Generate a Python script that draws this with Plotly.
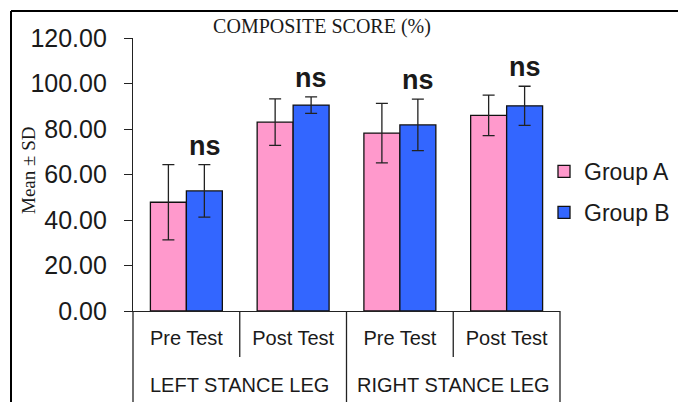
import numpy as np
import plotly.graph_objects as go

# ---- data -------------------------------------------------------------
stances = ["LEFT STANCE LEG", "RIGHT STANCE LEG"]
tests = ["Pre Test", "Post Test", "Pre Test", "Post Test"]
series_names = ["Group A", "Group B"]

group_a_mean = [47.8, 83.0, 78.2, 86.0]
group_a_sd = [16.5, 10.2, 13.1, 8.9]
group_b_mean = [52.8, 90.5, 81.8, 90.2]
group_b_sd = [11.5, 3.6, 11.3, 8.6]

sig_labels = ["ns", "ns", "ns", "ns"]
y_ticks = [0, 20, 40, 60, 80, 100, 120]

# ---- page geometry (pixels) --------------------------------------------
W, H = 678, 402
L, R, T, B = 133, 560, 38, 311


def fx(px):
    return (px - L) / (R - L)


def fy(py):
    return (B - py) / (B - T)


SANS = "Liberation Sans, Arial, sans-serif"
SERIF = "Liberation Serif, Times New Roman, serif"
INK = "#1a1a1a"

x_pos = np.arange(len(tests))

fig = go.Figure()
for name, mean, sd, color in [
    (series_names[0], group_a_mean, group_a_sd, "#ff99cc"),
    (series_names[1], group_b_mean, group_b_sd, "#3366ff"),
]:
    fig.add_trace(go.Bar(
        name=name, legendgroup=name, x=x_pos, y=mean,
        marker=dict(color=color, line=dict(color="#111111", width=1.3)),
        error_y=dict(type="data", array=sd, visible=True,
                     color="#222222", thickness=1.3, width=6),
    ))

# significance markers above the Group B whiskers
for i, lab in enumerate(sig_labels):
    fig.add_annotation(
        x=x_pos[i] + 0.17, y=group_b_mean[i] + group_b_sd[i],
        text=f"<b>{lab}</b>", showarrow=False, yanchor="bottom", yshift=2,
        font=dict(family=SANS, size=27, color=INK),
    )

# outer category labels
for j, st in enumerate(stances):
    fig.add_annotation(
        x=(x_pos[2 * j] + x_pos[2 * j + 1]) / 2, xref="x",
        y=fy(385), yref="paper", text=st, showarrow=False,
        yanchor="middle", font=dict(family=SANS, size=20, color=INK),
    )

# category separators below the axis
shapes = []
for k in range(len(tests) + 1):
    bottom = H + 5 if k % 2 == 0 else 357
    shapes.append(dict(type="line", xref="x domain", yref="paper",
                       x0=k / len(tests), x1=k / len(tests),
                       y0=0, y1=fy(bottom),
                       line=dict(color="#222222", width=1.3)))
# outer frame
shapes.append(dict(type="line", xref="paper", yref="paper",
                   x0=fx(11), x1=fx(W + 5), y0=fy(11), y1=fy(11),
                   line=dict(color="black", width=2)))
shapes.append(dict(type="line", xref="paper", yref="paper",
                   x0=fx(11), x1=fx(11), y0=fy(11), y1=fy(H + 5),
                   line=dict(color="black", width=2)))

# y-axis title
fig.add_annotation(
    x=fx(28), xref="paper", xanchor="center",
    y=fy(171), yref="paper", yanchor="middle", text="Mean ± SD",
    textangle=-90, showarrow=False,
    font=dict(family=SERIF, size=19, color=INK),
)

fig.update_layout(
    width=W, height=H,
    margin=dict(l=L, r=W - R, t=T, b=H - B, autoexpand=False),
    paper_bgcolor="white", plot_bgcolor="white",
    barmode="group", bargap=0.326, bargroupgap=0,
    title=dict(text="COMPOSITE SCORE (%)", x=fx(322), xref="paper",
               xanchor="center", y=1 - 26 / H, yref="container",
               yanchor="middle",
               font=dict(family=SERIF, size=20, color=INK)),
    xaxis=dict(range=[-0.5, len(tests) - 0.5], tickmode="array",
               tickvals=x_pos, ticktext=tests, ticks="",
               showline=True, linecolor="#222222", linewidth=1.3,
               showgrid=False, zeroline=False, ticklabelstandoff=9,
               tickfont=dict(family=SANS, size=20, color=INK)),
    yaxis=dict(range=[0, 120], tickmode="array", tickvals=y_ticks,
               tickformat=".2f", ticks="outside", ticklen=8,
               tickcolor="#222222", tickwidth=1.3,
               showline=True, linecolor="#222222", linewidth=1.3,
               showgrid=False, zeroline=False, ticklabelstandoff=12,
               tickfont=dict(family=SANS, size=25, color=INK)),
    legend=dict(x=fx(544), xanchor="left", y=fy(150), yanchor="top",
                font=dict(family=SANS, size=23, color=INK),
                bgcolor="rgba(0,0,0,0)", tracegroupgap=8),
    shapes=shapes,
    showlegend=True,
)

fig.write_html("out.html")
